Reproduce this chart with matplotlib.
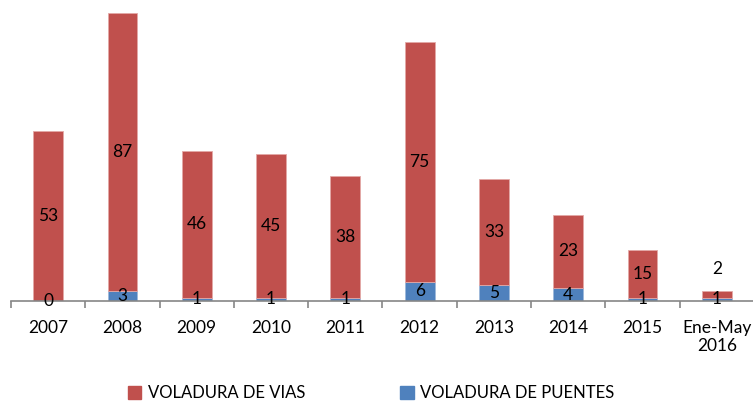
import numpy as np
import matplotlib.pyplot as plt
from matplotlib.patches import Patch

plt.rcParams['font.family'] = ['Lato', 'DejaVu Sans']

years = ["2007", "2008", "2009", "2010", "2011", "2012", "2013", "2014", "2015", "Ene-May\n2016"]
vias = [53, 87, 46, 45, 38, 75, 33, 23, 15, 2]
puentes = [0, 3, 1, 1, 1, 6, 5, 4, 1, 1]

red = "#C0504D"
blue = "#4F81BD"

fig = plt.figure(figsize=(7.53, 4.01), dpi=100)
ax = fig.add_axes([11 / 753, 100 / 401, 743 / 753, 301 / 401])

x = np.arange(len(years))
w = 0.4
ax.bar(x, puentes, w, color=blue, edgecolor="#9DB8DA", linewidth=0.6)
ax.bar(x, vias, w, bottom=puentes, color=red, edgecolor="#E3A9A7", linewidth=0.6)

# value labels centered in each segment, small top segment goes above
for i in range(len(years)):
    ax.text(x[i], puentes[i] / 2, str(puentes[i]), ha="center", va="center", fontsize=12.5)
    if vias[i] < 5:
        ax.text(x[i], puentes[i] + vias[i] + 7, str(vias[i]), ha="center", va="center", fontsize=12.5)
    else:
        ax.text(x[i], puentes[i] + vias[i] / 2, str(vias[i]), ha="center", va="center", fontsize=12.5)

ax.set_xlim(-0.5, len(years) - 0.5)
ax.set_ylim(0, 94)
ax.set_yticks([])
for s in ["top", "right", "left"]:
    ax.spines[s].set_visible(False)
ax.spines["bottom"].set_color("#868686")
ax.spines["bottom"].set_linewidth(1.2)

ax.set_xticks(x)
ax.set_xticklabels(years, fontsize=12.5, linespacing=1.15)
ax.tick_params(axis="x", which="major", length=0, pad=14)
ax.set_xticks(np.arange(-0.5, len(years)), minor=True)
ax.tick_params(axis="x", which="minor", length=5, width=1.2, color="#868686", direction="out")

handles = [Patch(color=red, label="VOLADURA DE VIAS"), Patch(color=blue, label="VOLADURA DE PUENTES")]
fig.legend(handles=handles, loc="center left", bbox_to_anchor=(128 / 753, 0.02), ncol=2, frameon=False,
           fontsize=12, handlelength=0.8, handleheight=0.8, columnspacing=5.7, handletextpad=0.4,
           borderpad=0, borderaxespad=0)

fig.savefig("out.png", dpi=100)
